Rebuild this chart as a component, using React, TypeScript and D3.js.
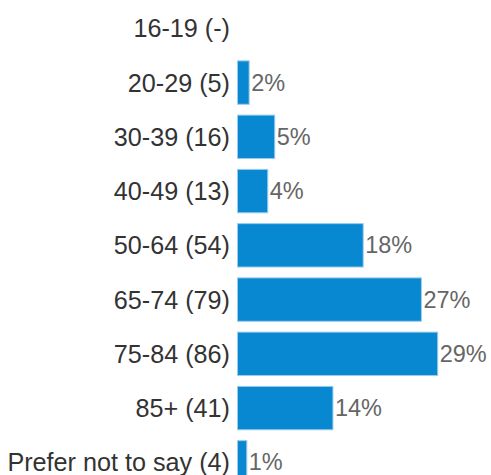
import React from "react";
import * as d3 from "d3";

const categories = ["16-19 (-)", "20-29 (5)", "30-39 (16)", "40-49 (13)", "50-64 (54)", "65-74 (79)", "75-84 (86)", "85+ (41)", "Prefer not to say (4)"];
const counts = [0, 5, 16, 13, 54, 79, 86, 41, 4];
const pctLabels = ["", "2%", "5%", "4%", "18%", "27%", "29%", "14%", "1%"];

const W = 491;
const H = 475;

export default function App() {
  const x = d3.scaleLinear().domain([0, 86]).range([237.5, 437.7]);
  const y = d3
    .scaleBand<string>()
    .domain(categories)
    .range([1.2, 1.2 + 9 * 54.25])
    .paddingInner(0.2)
    .paddingOuter(0.1);

  return (
    <svg
      width={W}
      height={H}
      style={{ position: "absolute", left: 0, top: 0, background: "#fff" }}
      fontFamily="'Liberation Sans', Arial, sans-serif"
    >
      {categories.map((c, i) => {
        const yy = y(c)!;
        const bw = y.bandwidth();
        const cy = yy + bw / 2;
        const xe = x(counts[i]);
        return (
          <g key={c}>
            <text x={230} y={cy} textAnchor="end" dominantBaseline="central" fontSize={25.2} fill="#333">
              {c}
            </text>
            {counts[i] > 0 && (
              <rect x={x(0)} y={yy} width={xe - x(0)} height={bw} fill="#0788d1" stroke="#9ccbeb" strokeWidth={1} />
            )}
            {pctLabels[i] && (
              <text x={xe + 2} y={cy} dominantBaseline="central" fontSize={23.5} fill="#666">
                {pctLabels[i]}
              </text>
            )}
          </g>
        );
      })}
    </svg>
  );
}
